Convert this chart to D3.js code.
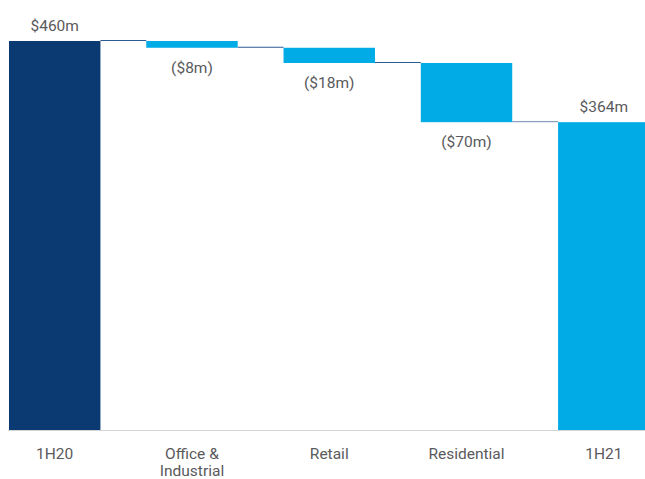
<!DOCTYPE html>
<html>
<head>
<meta charset="utf-8">
<script src="https://cdn.jsdelivr.net/npm/d3@7"></script>
<style>
  html, body { margin: 0; padding: 0; background: #fff; }
  svg text { font-family: Roboto, "Noto Sans", sans-serif; fill: #5a5a5c; }
</style>
</head>
<body>
<svg id="chart" width="645" height="479"></svg>
<script>
// Earnings bridge, $m
const categories = ["1H20", "Office & Industrial", "Retail", "Residential", "1H21"];
const values = [460, -8, -18, -70, 364];
const kinds = ["total", "delta", "delta", "delta", "total"];
const valueLabels = ["$460m", "($8m)", "($18m)", "($70m)", "$364m"];
const categoryLines = [["1H20"], ["Office &", "Industrial"], ["Retail"], ["Residential"], ["1H21"]];

const svg = d3.select("#chart");
const baseY = 430, topY = 41;

// running start/end for each step of the bridge
let running = 0;
const steps = categories.map((c, i) => {
  let start, end;
  if (kinds[i] === "total") { start = 0; end = values[i]; running = values[i]; }
  else { start = running; end = running + values[i]; running = end; }
  return { cat: c, start, end, kind: kinds[i], label: valueLabels[i], lines: categoryLines[i] };
});

const x = d3.scaleBand().domain(categories).range([9, 649.5]).paddingInner(0.334).paddingOuter(0);
const y = d3.scaleLinear().domain([0, 460]).range([baseY, topY]);

// baseline
svg.append("line")
  .attr("x1", 8).attr("x2", 645)
  .attr("y1", baseY + 0.5).attr("y2", baseY + 0.5)
  .attr("stroke", "#d4d4d4").attr("stroke-width", 1);

// connectors between consecutive bars
steps.slice(0, -1).forEach((d, i) => {
  const level = y(d.end);
  svg.append("line")
    .attr("x1", x(d.cat) + x.bandwidth()).attr("x2", x(steps[i + 1].cat))
    .attr("y1", level - 0.5).attr("y2", level - 0.5)
    .attr("stroke", i === steps.length - 2 ? "#8ba3c1" : "#2d5a93")
    .attr("stroke-width", 1.2);
});

// bars
svg.selectAll("rect.bar").data(steps).join("rect")
  .attr("class", "bar")
  .attr("x", d => x(d.cat))
  .attr("width", x.bandwidth())
  .attr("y", d => y(Math.max(d.start, d.end)))
  .attr("height", d => Math.abs(y(d.start) - y(d.end)))
  .attr("fill", (d, i) => i === 0 ? "#0b3a73" : "#00abe6");

// value labels: totals above, decreases below
svg.selectAll("text.val").data(steps).join("text")
  .attr("class", "val")
  .attr("x", d => x(d.cat) + x.bandwidth() / 2)
  .attr("y", d => d.kind === "total" ? y(d.end) - 10 : y(Math.min(d.start, d.end)) + 25)
  .attr("text-anchor", "middle")
  .attr("font-size", 15.5)
  .text(d => d.label);

// category labels
const cats = svg.selectAll("text.cat").data(steps).join("text")
  .attr("class", "cat")
  .attr("text-anchor", "middle")
  .attr("font-size", 15.5)
  .attr("x", d => x(d.cat) + x.bandwidth() / 2)
  .attr("y", 459);
cats.selectAll("tspan").data(d => d.lines.map(l => ({ l, cx: x(d.cat) + x.bandwidth() / 2 })))
  .join("tspan")
  .attr("x", t => t.cx)
  .attr("dy", (t, j) => j === 0 ? 0 : 17)
  .text(t => t.l);
</script>
</body>
</html>
